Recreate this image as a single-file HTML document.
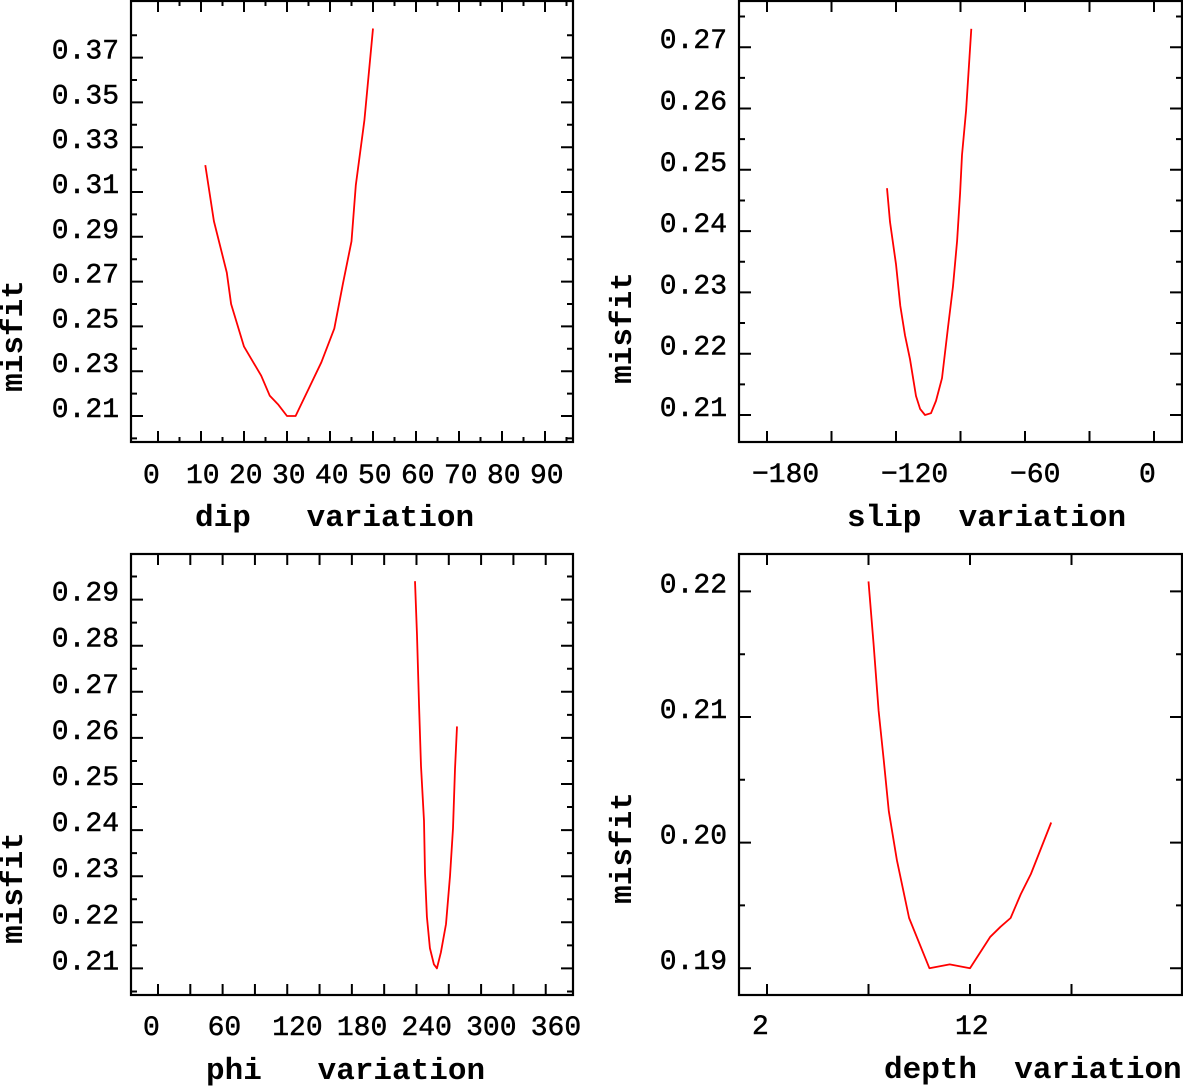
<!DOCTYPE html>
<html><head><meta charset="utf-8"><style>
html,body{margin:0;padding:0;background:#fff;}
svg{display:block;}
.tl{font-family:"Liberation Mono",monospace;font-size:28px;fill:#000;stroke:#000;stroke-width:0.5px;}
.tt{font-family:"Liberation Mono",monospace;font-size:31px;font-weight:bold;fill:#000;white-space:pre;}
</style></head><body>
<svg id="fig" width="1183" height="1086" viewBox="0 0 1183 1086" xmlns="http://www.w3.org/2000/svg" xml:space="preserve"></svg>
<script>
// ---- dip panel data ----
var dipX = [11,13,16,17,20,24,26,28,30,32,33,35,38,41,43,45,46,48,50];
var dipY = [0.322,0.297,0.274,0.260,0.241,0.228,0.219,0.215,0.210,0.210,0.214,0.222,0.234,0.249,0.269,0.288,0.313,0.342,0.383];
var dipTicks = [0,10,20,30,40,50,60,70,80,90];
var dipYTicks = [0.21,0.23,0.25,0.27,0.29,0.31,0.33,0.35,0.37];
// ---- slip panel data ----
var slipX = [-124.2,-122.8,-120,-118,-115.8,-113.5,-110.7,-108.8,-106.5,-103.7,-101.4,-98.6,-95.8,-93.5,-91.6,-90.2,-89.3,-87.4,-85];
var slipY = [0.247,0.2415,0.2346,0.2278,0.2230,0.2191,0.2131,0.2110,0.2100,0.2103,0.2123,0.2160,0.2243,0.2310,0.2384,0.2462,0.2524,0.2597,0.2730];
var slipTicks = [-180,-150,-120,-90,-60,-30,0];
var slipLabels = [-180,-120,-60,0];
var slipYTicks = [0.21,0.22,0.23,0.24,0.25,0.26,0.27];
// ---- phi panel data ----
var phiX = [238.6,240.5,242.3,244.2,247,247.9,249.7,252.5,256.2,259,262.7,267.4,271.1,273.9,275.8,277.6];
var phiY = [0.2940,0.2823,0.2674,0.2539,0.2420,0.2307,0.2212,0.2144,0.2109,0.2100,0.2135,0.2196,0.2300,0.2404,0.2532,0.2625];
var phiTicks = [0,30,60,90,120,150,180,210,240,270,300,330,360];
var phiLabels = [0,60,120,180,240,300,360];
var phiYTicks = [0.21,0.22,0.23,0.24,0.25,0.26,0.27,0.28,0.29];
// ---- depth panel data ----
var depthX = [7,7.25,7.5,7.75,8,8.4,9,10,11,12,13,13.5,14,14.5,15,16];
var depthY = [0.2208,0.2158,0.2105,0.2066,0.2025,0.1986,0.1940,0.1900,0.1903,0.1900,0.1925,0.1933,0.1940,0.1959,0.1975,0.2016];
var depthTicks = [2,7,12,17];
var depthLabels = [2,12];
var depthYTicks = [0.19,0.20,0.21,0.22];

var NS = "http://www.w3.org/2000/svg";
var svg = document.getElementById('fig');
function mk(tag, attrs, parent){
  var e = document.createElementNS(NS, tag);
  for (var k in attrs) e.setAttribute(k, attrs[k]);
  (parent||svg).appendChild(e);
  return e;
}
function panel(p){
  var g = mk('g', {});
  
  
  var sx = function(v){ return p.x0px + (v - p.x0) * p.xs; };
  var sy = function(v){ return p.y0px - (v - p.y0) * p.ys; };
  var fr = mk('rect', {x:p.L, y:p.T, width:p.R-p.L, height:p.B-p.T, fill:'none', stroke:'#000', 'stroke-width':2.2}, g);
  
  
  p.xt.forEach(function(v){
    var x = sx(v); if (x < p.L || x > p.R) return;
    var t = mk('path', {d:'M'+x+' '+p.B+'V'+(p.B-11)+'M'+x+' '+p.T+'V'+(p.T+11), stroke:'#000','stroke-width':2}, g);
    
    
  });
  if (p.xm) p.xm.forEach(function(v){
    var x = sx(v); if (x < p.L || x > p.R) return;
    var t = mk('path', {d:'M'+x+' '+p.B+'V'+(p.B-5)+'M'+x+' '+p.T+'V'+(p.T+5), stroke:'#000','stroke-width':2}, g);
    
    
  });
  p.xl.forEach(function(v){
    var tx = mk('text', {x:sx(v)-15, y:p.xly, 'class':'tl'}, g);
    tx.textContent = (v < 0 ? '\u2212' + (-v) : String(v));
    
    
  });
  var ystep = p.yt[1] - p.yt[0];
  p.yt.forEach(function(v){
    var y = sy(v);
    var t = mk('path', {d:'M'+p.L+' '+y+'H'+(p.L+12)+'M'+p.R+' '+y+'H'+(p.R-12), stroke:'#000','stroke-width':2}, g);
    
    
    var tx = mk('text', {x:p.L-12, y:y+1, 'text-anchor':'end', 'class':'tl'}, g);
    tx.textContent = v.toFixed(2);
    
    
  });
  for (var k = -1; k < p.yt.length; k++){
    var v = p.yt[0] + (k + 0.5) * ystep, y = sy(v);
    if (y < p.T + 3 || y > p.B - 3) continue;
    var t = mk('path', {d:'M'+p.L+' '+y+'H'+(p.L+6)+'M'+p.R+' '+y+'H'+(p.R-6), stroke:'#000','stroke-width':2}, g);
    
    
  }
  var d = '';
  for (var i = 0; i < p.dx.length; i++) d += (i ? 'L' : 'M') + sx(p.dx[i]).toFixed(1) + ' ' + sy(p.dy[i]).toFixed(1);
  var c = mk('path', {d:d, fill:'none', stroke:'#ff0000', 'stroke-width':1.8, 'stroke-linejoin':'round'}, g);
  
  
  var xt = mk('text', {x:p.xtx, y:p.xty, 'class':'tt'}, g);
  xt.textContent = p.xtitle;
  
  
  var yt = mk('text', {x:0, y:0, 'class':'tt', 'text-anchor':'middle', transform:'translate('+p.ytx+','+p.yty+') rotate(-90)'}, g);
  yt.textContent = 'misfit';
  
  
}
panel({name:'dip', L:131,R:573,T:1,B:442, x0:0,x0px:158,xs:4.3, y0:0.21,y0px:416,ys:2240,
  xt:dipTicks, xm:[5,15,25,35,45,55,65,75,85,95], xl:dipTicks, yt:dipYTicks, dx:dipX, dy:dipY, xly:483,
  xtitle:'dip   variation', xtx:195, xty:526, ytx:22, yty:336});
panel({name:'slip', L:739,R:1182,T:1,B:442, x0:0,x0px:1154,xs:2.15, y0:0.21,y0px:415,ys:6130,
  xt:slipTicks, xl:slipLabels, yt:slipYTicks, dx:slipX, dy:slipY, xly:482,
  xtitle:'slip  variation', xtx:847, xty:526, ytx:631, yty:328});
panel({name:'phi', L:131,R:573,T:554,B:995, x0:0,x0px:158,xs:1.077, y0:0.21,y0px:968.4,ys:4610,
  xt:phiTicks, xl:phiLabels, yt:phiYTicks, dx:phiX, dy:phiY, xly:1035,
  xtitle:'phi   variation', xtx:206, xty:1079, ytx:22, yty:888});
panel({name:'depth', L:739,R:1182,T:554,B:995, x0:2,x0px:767,xs:20.3, y0:0.19,y0px:968.2,ys:12560,
  xt:depthTicks, xl:depthLabels, yt:depthYTicks, dx:depthX, dy:depthY, xly:1034,
  xtitle:'depth  variation', xtx:884, xty:1078, ytx:631, yty:848});
</script>
</body></html>
